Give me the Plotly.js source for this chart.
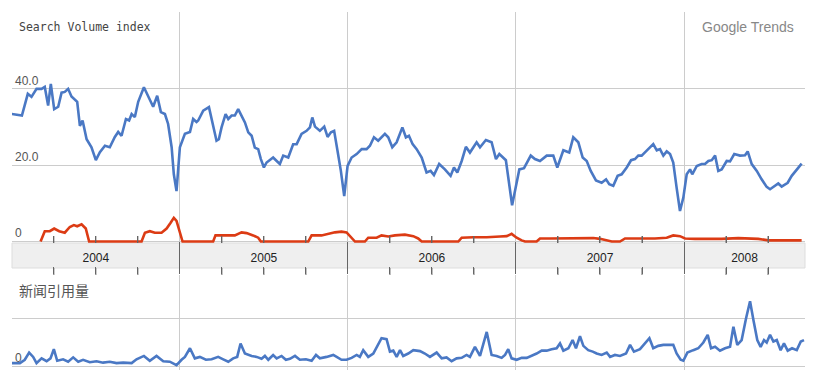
<!DOCTYPE html>
<html>
<head>
<meta charset="utf-8">
<script src="https://cdn.plot.ly/plotly-3.0.1.min.js"></script>
<style>html,body{margin:0;padding:0;background:#fff;}#chart{width:819px;height:374px;}</style>
</head>
<body>
<div id="chart"></div>
<script>
// ---- Data (decimal years) ----
const searchYears = [2004.000,2004.060,2004.095,2004.117,2004.147,2004.177,2004.196,2004.216,2004.232,2004.252,2004.276,2004.296,2004.315,2004.335,2004.355,2004.389,2004.405,2004.421,2004.445,2004.474,2004.500,2004.524,2004.554,2004.583,2004.613,2004.633,2004.653,2004.679,2004.698,2004.713,2004.732,2004.752,2004.786,2004.815,2004.841,2004.865,2004.887,2004.911,2004.930,2004.951,2004.964,2004.980,2005.000,2005.030,2005.060,2005.079,2005.099,2005.109,2005.139,2005.173,2005.198,2005.218,2005.232,2005.248,2005.272,2005.288,2005.308,2005.327,2005.347,2005.367,2005.387,2005.407,2005.427,2005.446,2005.466,2005.482,2005.500,2005.516,2005.555,2005.576,2005.595,2005.615,2005.645,2005.674,2005.695,2005.724,2005.754,2005.774,2005.788,2005.804,2005.833,2005.859,2005.879,2005.899,2005.918,2005.938,2005.958,2005.978,2005.998,2006.022,2006.052,2006.082,2006.111,2006.131,2006.155,2006.180,2006.220,2006.240,2006.264,2006.290,2006.324,2006.345,2006.363,2006.385,2006.409,2006.439,2006.468,2006.492,2006.512,2006.543,2006.577,2006.611,2006.631,2006.651,2006.677,2006.702,2006.726,2006.766,2006.786,2006.821,2006.855,2006.881,2006.901,2006.940,2006.960,2006.977,2006.998,2007.020,2007.048,2007.088,2007.113,2007.143,2007.183,2007.222,2007.246,2007.282,2007.317,2007.341,2007.371,2007.397,2007.421,2007.445,2007.476,2007.510,2007.536,2007.555,2007.579,2007.605,2007.629,2007.659,2007.685,2007.708,2007.728,2007.748,2007.778,2007.817,2007.838,2007.857,2007.877,2007.897,2007.917,2007.936,2007.956,2007.976,2007.996,2008.016,2008.036,2008.049,2008.076,2008.105,2008.125,2008.145,2008.165,2008.185,2008.204,2008.224,2008.254,2008.274,2008.299,2008.333,2008.363,2008.379,2008.403,2008.433,2008.462,2008.492,2008.512,2008.542,2008.561,2008.581,2008.617,2008.641,2008.671,2008.700];
const searchBlue = [33.4,33.0,38.7,37.9,40.0,40.0,40.5,35.6,41.3,34.7,35.3,39.0,39.2,40.0,38.0,36.6,30.3,31.7,26.8,24.7,21.3,23.4,25.1,24.7,27.4,28.7,27.7,32.1,31.7,33.4,32.6,36.6,40.4,37.9,35.3,38.2,33.9,33.4,30.8,24.7,17.6,13.2,24.7,28.2,28.7,32.1,31.3,31.7,34.3,35.2,30.3,26.4,26.8,29.9,33.4,32.1,33.0,33.0,34.7,33.0,31.2,28.6,27.7,24.6,24.2,21.6,19.4,20.7,22.0,21.1,20.3,22.5,22.0,25.5,25.5,28.2,29.0,29.9,32.5,30.1,29.0,30.1,27.4,28.6,29.0,23.8,18.5,11.9,19.8,22.0,22.9,24.2,24.2,25.1,27.3,26.4,28.2,27.3,24.7,26.0,29.9,27.3,27.7,25.5,24.2,22.0,18.1,18.5,17.4,20.3,18.9,17.2,19.4,18.1,21.1,24.8,23.3,26.0,24.7,26.6,26.0,21.6,22.9,21.3,15.0,9.5,14.1,18.9,19.2,22.5,21.6,21.1,22.5,22.5,19.4,23.9,23.3,27.3,26.0,22.0,21.1,18.5,16.0,15.4,16.3,15.0,14.6,17.2,17.6,19.4,21.3,21.6,22.5,22.5,23.8,25.5,23.9,24.2,22.5,23.6,22.9,20.7,14.1,8.0,11.5,17.6,18.9,17.6,19.8,20.3,20.3,21.1,21.3,22.5,18.5,18.9,21.1,21.0,22.9,22.5,22.6,23.6,20.3,18.5,16.3,14.3,13.7,14.6,15.2,14.4,15.4,17.2,18.9,20.4];

const redYears = [2004.171,2004.196,2004.226,2004.252,2004.282,2004.315,2004.345,2004.369,2004.389,2004.415,2004.440,2004.460,2004.772,2004.792,2004.821,2004.851,2004.891,2004.921,2004.945,2004.964,2004.980,2005.000,2005.016,2005.198,2005.212,2005.288,2005.327,2005.367,2005.397,2005.436,2005.466,2005.482,2005.764,2005.784,2005.843,2005.923,2005.962,2005.992,2006.022,2006.042,2006.101,2006.121,2006.171,2006.200,2006.240,2006.280,2006.339,2006.389,2006.418,2006.439,2006.657,2006.677,2006.746,2006.826,2006.905,2006.945,2006.974,2007.004,2007.034,2007.054,2007.123,2007.143,2007.202,2007.302,2007.421,2007.460,2007.500,2007.540,2007.570,2007.619,2007.649,2007.728,2007.827,2007.897,2007.936,2007.976,2008.006,2008.065,2008.145,2008.224,2008.323,2008.363,2008.442,2008.502,2008.700];
const searchRed = [0,2.7,2.7,3.4,2.7,2.3,3.8,4.3,4.0,4.5,3.4,0,0,2.3,2.7,2.3,2.3,3.4,4.9,6.2,5.4,2.3,0,0,1.6,1.6,1.6,2.4,2.2,1.6,1.0,0,0,1.6,1.6,2.4,2.6,2.4,1.0,0,0,1.0,1.0,1.6,1.3,1.6,1.8,1.4,0.8,0,0,1.0,1.1,1.1,1.3,1.4,2.0,1.0,0.3,0,0,0.8,0.8,0.9,1.0,0.9,0.7,0.3,0,0,0.8,0.8,0.8,1.0,1.6,1.4,0.8,0.7,0.7,0.7,0.9,0.8,0.7,0.3,0.3];

const newsYears = [2004.000,2004.048,2004.077,2004.103,2004.127,2004.147,2004.177,2004.207,2004.230,2004.250,2004.270,2004.305,2004.335,2004.365,2004.395,2004.424,2004.464,2004.504,2004.543,2004.583,2004.623,2004.663,2004.713,2004.742,2004.786,2004.821,2004.861,2004.901,2004.940,2004.980,2005.010,2005.030,2005.060,2005.089,2005.119,2005.155,2005.189,2005.228,2005.258,2005.288,2005.317,2005.341,2005.361,2005.387,2005.427,2005.457,2005.486,2005.506,2005.526,2005.555,2005.576,2005.605,2005.631,2005.655,2005.685,2005.714,2005.750,2005.784,2005.810,2005.833,2005.873,2005.913,2005.933,2005.962,2005.992,2006.022,2006.052,2006.071,2006.091,2006.121,2006.151,2006.180,2006.200,2006.230,2006.250,2006.270,2006.290,2006.310,2006.329,2006.359,2006.389,2006.429,2006.458,2006.488,2006.528,2006.558,2006.587,2006.617,2006.647,2006.677,2006.706,2006.726,2006.756,2006.786,2006.826,2006.855,2006.885,2006.915,2006.935,2006.954,2006.974,2007.004,2007.034,2007.064,2007.093,2007.123,2007.153,2007.183,2007.212,2007.242,2007.262,2007.282,2007.312,2007.337,2007.357,2007.381,2007.401,2007.430,2007.457,2007.480,2007.510,2007.540,2007.560,2007.589,2007.619,2007.655,2007.679,2007.702,2007.738,2007.768,2007.794,2007.817,2007.847,2007.877,2007.907,2007.936,2007.956,2007.980,2007.996,2008.020,2008.055,2008.085,2008.115,2008.141,2008.161,2008.185,2008.214,2008.244,2008.274,2008.294,2008.317,2008.343,2008.369,2008.393,2008.413,2008.436,2008.456,2008.476,2008.492,2008.512,2008.532,2008.552,2008.575,2008.595,2008.617,2008.643,2008.671,2008.695,2008.714];
const newsVolume = [0.06,0.06,0.13,0.28,0.19,0.06,0.16,0.10,0.16,0.35,0.11,0.14,0.09,0.18,0.09,0.13,0.08,0.10,0.07,0.09,0.06,0.07,0.06,0.14,0.21,0.11,0.21,0.10,0.09,0.02,0.13,0.19,0.37,0.16,0.19,0.13,0.14,0.19,0.14,0.09,0.16,0.19,0.47,0.26,0.21,0.19,0.15,0.21,0.13,0.23,0.16,0.21,0.13,0.15,0.21,0.13,0.14,0.11,0.23,0.16,0.19,0.23,0.19,0.13,0.13,0.17,0.23,0.19,0.33,0.19,0.26,0.44,0.58,0.56,0.30,0.32,0.19,0.33,0.21,0.26,0.33,0.31,0.26,0.19,0.28,0.16,0.18,0.10,0.16,0.17,0.23,0.19,0.40,0.21,0.71,0.23,0.21,0.17,0.23,0.35,0.16,0.13,0.17,0.17,0.21,0.26,0.32,0.32,0.35,0.37,0.47,0.32,0.37,0.54,0.37,0.62,0.42,0.33,0.30,0.26,0.23,0.28,0.19,0.23,0.21,0.26,0.44,0.30,0.35,0.47,0.58,0.37,0.42,0.44,0.44,0.44,0.26,0.13,0.11,0.28,0.33,0.37,0.49,0.65,0.37,0.40,0.32,0.37,0.40,0.82,0.44,0.54,0.99,1.35,0.96,0.54,0.40,0.54,0.49,0.65,0.51,0.54,0.33,0.47,0.32,0.37,0.33,0.51,0.54];

const yearBoundaries = [2005, 2006, 2007, 2008];
const quarterTicks = [2004.25,2004.5,2004.75,2005.25,2005.5,2005.75,2006.25,2006.5,2006.75,2007.25,2007.5,2007.75,2008.25,2008.5];
const yearLabelPos = [2004.5, 2005.5, 2006.5, 2007.5, 2008.36];
const yearLabels = ['2004','2005','2006','2007','2008'];
const searchTickVals = [0, 20, 40];
const searchTickText = ['0', '20.0', '40.0'];
const newsTickVals = [0, 1];
const newsTickText = ['0', ''];

// ---- Layout helpers ----
const W = 819, H = 374;
const px = v => v / W;
const py = v => 1 - v / H;
const xRange = [2004.001, 2008.72];
const xDom = [px(12), px(805)];
const BLUE = '#4a78c4', RED = '#dc3b14', GRID = '#cccccc', TICK = '#666666';

const traces = [
  {x: searchYears, y: searchBlue, xaxis: 'x', yaxis: 'y', mode: 'lines', line: {color: BLUE, width: 2.6}, hoverinfo: 'skip'},
  {x: redYears, y: searchRed, xaxis: 'x', yaxis: 'y', mode: 'lines', line: {color: RED, width: 2.6}, hoverinfo: 'skip'},
  {x: newsYears, y: newsVolume, xaxis: 'x2', yaxis: 'y2', mode: 'lines', line: {color: BLUE, width: 2.6}, hoverinfo: 'skip'},
  // empty traces so that the helper axes (band labels / separators) get drawn
  {x: [], y: [], xaxis: 'x3', yaxis: 'y', mode: 'lines', hoverinfo: 'skip'},
  {x: [], y: [], xaxis: 'x4', yaxis: 'y2', mode: 'lines', hoverinfo: 'skip'}
];

const tickFont = {family: 'Arial, Liberation Sans, sans-serif', size: 12, color: '#555'};
const helper = {type: 'linear', range: xRange, showgrid: false, zeroline: false, showline: false, tickmode: 'array', tickwidth: 1, tickcolor: TICK};

// quarter tick marks above and below the year band (backup to the axes' minor ticks)
const quarterShapes = [];
quarterTicks.forEach(q => {
  quarterShapes.push({type: 'line', xref: 'x', yref: 'paper', x0: q, x1: q, y0: py(243), y1: py(236), line: {color: TICK, width: 1}, layer: 'above'});
  quarterShapes.push({type: 'line', xref: 'x', yref: 'paper', x0: q, x1: q, y0: py(275), y1: py(268), line: {color: TICK, width: 1}, layer: 'above'});
});

const layout = {
  width: W, height: H,
  margin: {l: 0, r: 0, t: 0, b: 0, pad: 0},
  paper_bgcolor: '#ffffff', plot_bgcolor: 'rgba(0,0,0,0)',
  showlegend: false,
  xaxis: {type: 'linear', domain: xDom, range: xRange, anchor: 'y', side: 'bottom',
          tickmode: 'linear', tick0: 2005, dtick: 1,
          showgrid: true, gridcolor: GRID, gridwidth: 1, showticklabels: false, ticks: '', zeroline: false, showline: false,
          minor: {tickmode: 'linear', tick0: 2004, dtick: 0.25, ticks: 'inside', ticklen: 7, tickwidth: 1, tickcolor: TICK, showgrid: false}},
  yaxis: {domain: [py(243), py(12)], range: [-0.39, 60.13], anchor: 'x', tickmode: 'array',
          tickvals: searchTickVals, ticktext: searchTickText, ticklabelposition: 'inside top',
          showgrid: true, gridcolor: GRID, gridwidth: 1, zeroline: false, showline: false, ticks: '', tickfont: tickFont},
  xaxis2: {type: 'linear', domain: xDom, range: xRange, anchor: 'y2', side: 'top',
           tickmode: 'linear', tick0: 2005, dtick: 1,
           showgrid: true, gridcolor: GRID, gridwidth: 1, showticklabels: false, ticks: '', zeroline: false, showline: false,
           minor: {tickmode: 'linear', tick0: 2004, dtick: 0.25, ticks: 'outside', ticklen: 7, tickwidth: 1, tickcolor: TICK, showgrid: false}},
  yaxis2: {domain: [py(370), py(275)], range: [-0.083, 1.896], anchor: 'x2', tickmode: 'array',
           tickvals: newsTickVals, ticktext: newsTickText, ticklabelposition: 'inside top',
           showgrid: true, gridcolor: GRID, gridwidth: 1, zeroline: false, showline: false, ticks: '', tickfont: tickFont},
  // year labels inside the band
  xaxis3: Object.assign({}, helper, {overlaying: 'x', anchor: 'y', side: 'bottom',
           tickvals: yearLabelPos, ticktext: yearLabels, ticks: '', ticklabelstandoff: 6,
           tickfont: {family: 'Arial, Liberation Sans, sans-serif', size: 12, color: '#222'}}),
  // year separators through the band
  xaxis4: Object.assign({}, helper, {overlaying: 'x2', anchor: 'y2', side: 'top',
           tickvals: yearBoundaries, ticks: 'outside', ticklen: 32, showticklabels: false}),
  shapes: [
    {type: 'rect', xref: 'paper', yref: 'paper', x0: px(12), x1: px(805), y0: py(268), y1: py(243),
     fillcolor: '#efefef', line: {color: '#dddddd', width: 1}, layer: 'below'}
  ].concat(quarterShapes),
  annotations: [
    {text: 'Search Volume index', xref: 'paper', yref: 'paper', x: px(17), y: py(27), xanchor: 'left', yanchor: 'middle',
     showarrow: false, font: {family: 'DejaVu Sans Mono, monospace', size: 11.5, color: '#444'}},
    {text: 'Google Trends', xref: 'paper', yref: 'paper', x: px(796), y: py(27), xanchor: 'right', yanchor: 'middle',
     showarrow: false, font: {family: 'Arial, Liberation Sans, sans-serif', size: 14, color: '#888'}},
    {text: '新闻引用量', xref: 'paper', yref: 'paper', x: px(17), y: py(290), xanchor: 'left', yanchor: 'middle',
     showarrow: false, font: {family: 'Noto Sans CJK SC, sans-serif', size: 14, color: '#555'}}
  ]
};

Plotly.newPlot('chart', traces, layout, {staticPlot: true, displayModeBar: false});
</script>
</body>
</html>
